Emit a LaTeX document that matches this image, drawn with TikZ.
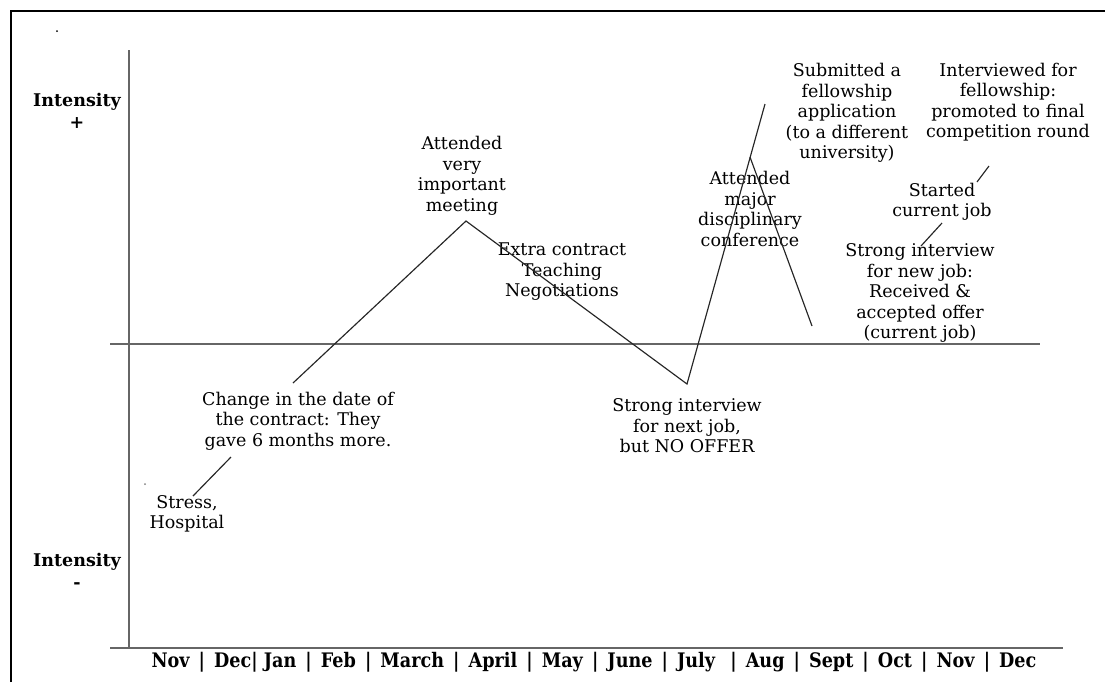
\documentclass[tikz,border=0pt]{standalone}
\usepackage{fontspec}
\setmainfont{DejaVu Serif}

\begin{document}
\begin{tikzpicture}[x=0.6pt, y=-0.6pt,
  lbl/.style={align=center, inner sep=0pt, font=\fontsize{10.5}{12.3}\selectfont},
  axlbl/.style={align=center, inner sep=0pt, font=\fontsize{10.5}{13}\selectfont\bfseries},
  axis/.style={gray!80!black, line width=0.9pt},
  curve/.style={black!85, line width=0.7pt}]

  \useasboundingbox (0,0) rectangle (1105,682);

  % --- 1. 枠と軸 ---
  \draw[line width=0.9pt] (11,682) -- (11,11) -- (1105,11);
  \draw[axis] (129,50) -- (129,648);
  \draw[axis] (110,648) -- (1063,648);
  \draw[axis] (110,344) -- (1040,344);
  \fill (57,31) circle (0.6pt);
  \fill[gray] (145,484) circle (0.6pt);

  \node[axlbl] (intplus) at (77,111) {Intensity\\+};
  \node[axlbl] (intminus) at (77,571) {Intensity\\-};
  \node[axlbl, font=\fontsize{12}{14}\selectfont\bfseries] (months) at (594,662)
    {\scalebox{0.88}[1]{Nov \,|\, Dec| Jan \,|\, Feb \,|\, March \,|\, April \,|\, May \,|\, June \,|\, July \ \,|\, Aug \,|\, Sept \,|\, Oct \,|\, Nov \,|\, Dec}};

  % --- 2. 出来事のラベル ---
  \node[lbl] (stress) at (187,514) {Stress,\\Hospital};
  \node[lbl] (change) at (298,421) {Change in the date of\\the contract: They\\gave 6 months more.};
  \node[lbl] (meeting) at (462,176) {Attended\\very\\important\\meeting};
  \node[lbl] (extra) at (562,272) {Extra contract\\Teaching\\Negotiations};
  \node[lbl] (nooffer) at (687,426) {Strong interview\\for next job,\\but NO OFFER};
  \node[lbl] (conf) at (750,209) {Attended\\major\\disciplinary\\conference};
  \node[lbl] (submit) at (847,113) {Submitted a\\fellowship\\application\\(to a different\\university)};
  \node[lbl] (interview) at (1008,102) {Interviewed for\\fellowship:\\promoted to final\\competition round};
  \node[lbl] (started) at (942,202) {Started\\current job};
  \node[lbl] (newjob) at (920,293) {Strong interview\\for new job:\\Received \&\\accepted offer\\(current job)};

  % --- 3. 折れ線 ---
  \coordinate (p0) at (293,383);
  \coordinate (peak) at (466,221);
  \coordinate (low) at (687,384);
  \coordinate (high) at (765,104);
  \coordinate (apex) at (750,157);
  \coordinate (drop) at (812,326);
  \draw[curve] (p0) -- (peak) -- (low) -- (high);
  \draw[curve] (apex) -- (drop);

  % 短い引き出し線
  \coordinate (s1) at (193,496);
  \coordinate (s2) at (231,457);
  \coordinate (n1) at (921,246);
  \coordinate (n2) at (942,223);
  \coordinate (f1) at (977,182);
  \coordinate (f2) at (989,166);
  \draw[curve] (s1) -- (s2);
  \draw[curve] (n1) -- (n2);
  \draw[curve] (f1) -- (f2);

\end{tikzpicture}
\end{document}
